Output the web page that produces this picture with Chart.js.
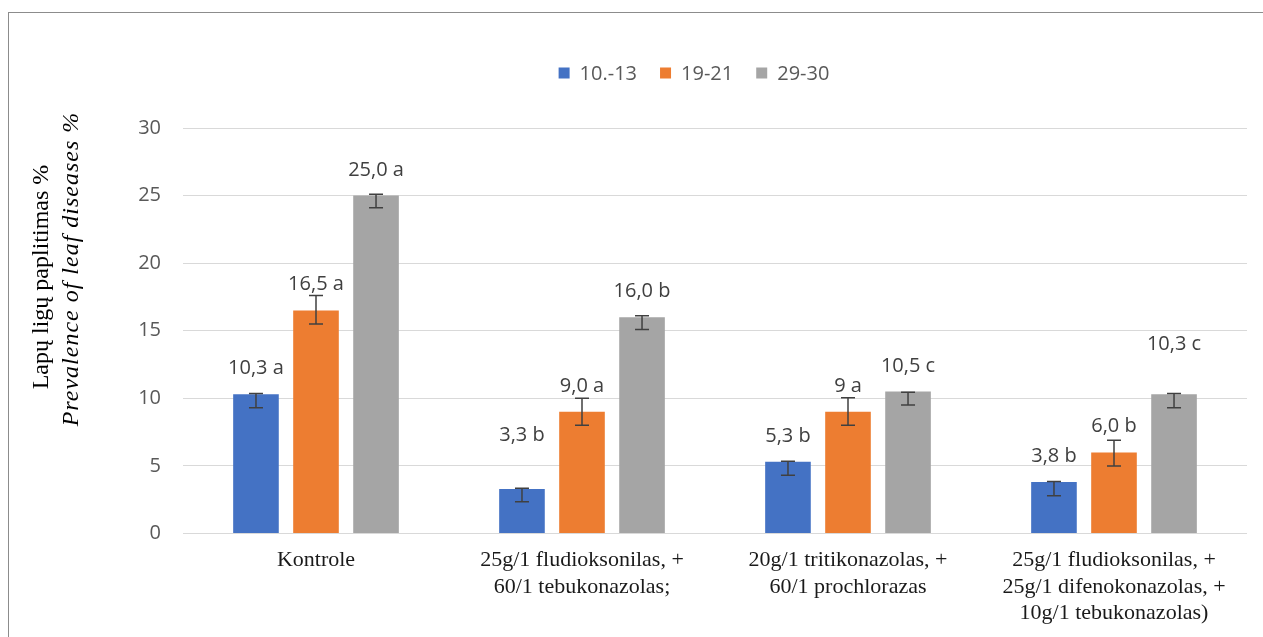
<!DOCTYPE html>
<html>
<head>
<meta charset="utf-8">
<title>Lapų ligų paplitimas</title>
<script src="https://cdn.jsdelivr.net/npm/chart.js@4.4.1/dist/chart.umd.min.js"></script>
<style>
  html, body { margin: 0; padding: 0; background: #fff; }
  #wrap { position: relative; width: 1263px; height: 637px; overflow: hidden; }
  #frame { position: absolute; left: 8px; top: 12px; width: 1262px; height: 700px; border: 1px solid #8c8c8c; box-sizing: border-box; }
  #chart { position: absolute; left: 0; top: 0; }
</style>
</head>
<body>
<div id="wrap">
  <div id="frame"></div>
  <canvas id="chart" width="1263" height="637"></canvas>
</div>
<script>
// treatments (x axis), one entry per group, multi-line
const categories = [
  ['Kontrole'],
  ['25g/1 fludioksonilas, +', '60/1 tebukonazolas;'],
  ['20g/1 tritikonazolas, +', '60/1 prochlorazas'],
  ['25g/1 fludioksonilas, +', '25g/1 difenokonazolas, +', '10g/1 tebukonazolas)']
];
const seriesNames = ['10.-13', '19-21', '29-30'];
const seriesColors = ['#4472C4', '#ED7D31', '#A5A5A5'];

// disease prevalence, %
const values1013 = [10.3, 3.3, 5.3, 3.8];
const values1921 = [16.5, 9.0, 9.0, 6.0];
const values2930 = [25.0, 16.0, 10.5, 10.3];

// value labels with significance letters
const labels1013 = ['10,3 a', '3,3 b', '5,3 b', '3,8 b'];
const labels1921 = ['16,5 a', '9,0 a', '9 a', '6,0 b'];
const labels2930 = ['25,0 a', '16,0 b', '10,5 c', '10,3 c'];

// error bar ends (low / high)
const errLow1013 = [9.3, 2.35, 4.3, 2.8];
const errHigh1013 = [10.35, 3.35, 5.35, 3.85];
const errLow1921 = [15.5, 8.0, 8.0, 5.0];
const errHigh1921 = [17.6, 10.0, 10.05, 6.9];
const errLow2930 = [24.1, 15.1, 9.5, 9.3];
const errHigh2930 = [25.1, 16.1, 10.45, 10.35];

const yTicks = [0, 5, 10, 15, 20, 25, 30];

// extra lift (px) for labels that were moved up by hand
const labelLift = [[0, 28, 0, 0], [0, 0, 0, 0], [0, 0, 0, 24]];

const sans = "'Open Sans', sans-serif";
const serif = "'Liberation Serif', 'Times New Roman', serif";
const textGray = '#595959';

const errorBars = {
  id: 'errorBars',
  afterDatasetsDraw(chart) {
    const ctx = chart.ctx;
    const y = chart.scales.y;
    ctx.save();
    ctx.strokeStyle = '#404040';
    ctx.lineWidth = 1.5;
    chart.data.datasets.forEach((ds, i) => {
      chart.getDatasetMeta(i).data.forEach((bar, j) => {
        const lo = y.getPixelForValue(ds.errLow[j]);
        const hi = y.getPixelForValue(ds.errHigh[j]);
        const x = bar.x;
        ctx.beginPath();
        ctx.moveTo(x, lo); ctx.lineTo(x, hi);
        ctx.moveTo(x - 7, lo); ctx.lineTo(x + 7, lo);
        ctx.moveTo(x - 7, hi); ctx.lineTo(x + 7, hi);
        ctx.stroke();
      });
    });
    ctx.restore();
  }
};

const valueLabels = {
  id: 'valueLabels',
  afterDatasetsDraw(chart) {
    const ctx = chart.ctx;
    ctx.save();
    ctx.font = '20px ' + sans;
    ctx.fillStyle = '#404040';
    ctx.textAlign = 'center';
    ctx.textBaseline = 'alphabetic';
    chart.data.datasets.forEach((ds, i) => {
      chart.getDatasetMeta(i).data.forEach((bar, j) => {
        ctx.fillText(ds.valueText[j], bar.x, bar.y - 20 - labelLift[i][j]);
      });
    });
    ctx.restore();
  }
};

// legend row above the plot: square swatch + series name
const topLegend = {
  id: 'topLegend',
  afterDraw(chart) {
    const ctx = chart.ctx;
    const box = 11, gap = 10, spacing = 23;
    ctx.save();
    ctx.font = '20px ' + sans;
    ctx.textBaseline = 'middle';
    ctx.textAlign = 'left';
    const items = chart.data.datasets.map(ds => ({
      text: ds.label, color: ds.backgroundColor, w: ctx.measureText(ds.label).width
    }));
    const total = items.reduce((s, it) => s + box + gap + it.w, 0) + spacing * (items.length - 1);
    const area = chart.chartArea;
    let x = (area.left + area.right) / 2 - 21 - total / 2;
    const cy = area.top - 55;
    items.forEach(it => {
      ctx.fillStyle = it.color;
      ctx.fillRect(x, cy - box / 2, box, box);
      x += box + gap;
      ctx.fillStyle = textGray;
      ctx.fillText(it.text, x, cy + 1);
      x += it.w + spacing;
    });
    ctx.restore();
  }
};

// two-line rotated y title, second line italic
const yTitle = {
  id: 'yTitle',
  afterDraw(chart) {
    const ctx = chart.ctx;
    const top = chart.chartArea.top;
    ctx.save();
    ctx.fillStyle = '#000';
    ctx.textAlign = 'center';
    ctx.textBaseline = 'middle';
    ctx.save();
    ctx.translate(42, top + 149);
    ctx.rotate(-Math.PI / 2);
    ctx.font = '24px ' + serif;
    ctx.fillText('Lapų ligų paplitimas %', 0, 0);
    ctx.restore();
    ctx.translate(72, top + 141);
    ctx.rotate(-Math.PI / 2);
    ctx.font = 'italic 24px ' + serif;
    ctx.letterSpacing = '1px';
    ctx.fillText('Prevalence of leaf diseases %', 0, 0);
    ctx.restore();
  }
};

const makeSet = (i, values, texts, lo, hi) => ({
  label: seriesNames[i],
  data: values,
  backgroundColor: seriesColors[i],
  valueText: texts,
  errLow: lo,
  errHigh: hi
});

new Chart(document.getElementById('chart'), {
  type: 'bar',
  data: {
    labels: categories,
    datasets: [
      makeSet(0, values1013, labels1013, errLow1013, errHigh1013),
      makeSet(1, values1921, labels1921, errLow1921, errHigh1921),
      makeSet(2, values2930, labels2930, errLow2930, errHigh2930)
    ]
  },
  options: {
    responsive: false,
    animation: false,
    categoryPercentage: 0.677,
    barPercentage: 0.76,
    layout: { padding: { top: 128, right: 16, bottom: 5, left: 0 } },
    plugins: {
      legend: { display: false },
      tooltip: { enabled: false }
    },
    scales: {
      x: {
        grid: { display: false },
        border: { display: false },
        ticks: {
          color: '#1a1a1a',
          font: { family: serif, size: 22, lineHeight: 1.22 },
          padding: 5,
          maxRotation: 0,
          autoSkip: false
        }
      },
      y: {
        min: 0,
        max: 30,
        afterBuildTicks: (scale) => { scale.ticks = yTicks.map(v => ({ value: v })); },
        afterFit: (scale) => { scale.width = 183; },
        grid: { color: '#d9d9d9', lineWidth: 1, drawTicks: false },
        border: { display: false },
        ticks: {
          color: textGray,
          font: { family: sans, size: 20 },
          padding: 22
        }
      }
    }
  },
  plugins: [errorBars, valueLabels, topLegend, yTitle]
});
</script>
</body>
</html>
